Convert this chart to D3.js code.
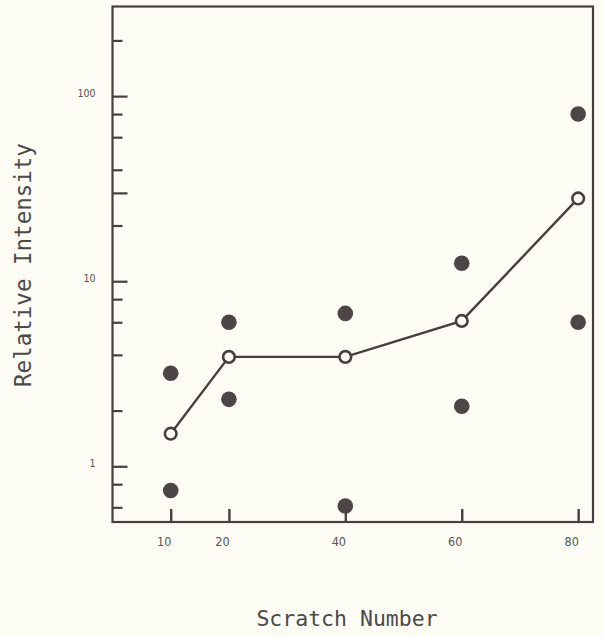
<!DOCTYPE html>
<html>
<head>
<meta charset="utf-8">
<script src="https://cdn.jsdelivr.net/npm/d3@7/dist/d3.min.js"></script>
<style>
  html, body { margin: 0; padding: 0; background: #fcfcf4; }
  svg { display: block; }
</style>
</head>
<body>
<script>
// ---- data ----
const scratchNumbers = [10, 20, 40, 60, 80];
const highValues = [3.18, 6.0, 6.7, 12.5, 80];
const lowValues = [0.74, 2.3, 0.61, 2.11, 6.0];
const meanValues = [1.5, 3.9, 3.9, 6.1, 28];
const xTickValues = [10, 20, 40, 60, 80];
const yLabelValues = [1, 10, 100];
const yMajorTicks = [1, 10, 30, 100];
const yMinorTicks = [0.6, 0.8, 2, 4, 6, 8, 20, 40, 60, 80, 200];
const xTitle = "Scratch Number";
const yTitle = "Relative Intensity";

(function () {
const W = 604, H = 637;
const ink = "#463f41";
const svg = d3.select("body").append("svg").attr("width", W).attr("height", H);
svg.append("rect").attr("width", W).attr("height", H).attr("fill", "#fcfcf4");

const mLeft = 112.5, mRight = 593, mTop = 6.5, mBottom = 522;
const x = d3.scaleLinear().domain([0, 82.55]).range([mLeft, mRight]);
const y = d3.scaleLog().domain([0.5, 305]).range([mBottom, mTop]);

// frame
svg.append("rect")
  .attr("x", mLeft).attr("y", mTop)
  .attr("width", mRight - mLeft).attr("height", mBottom - mTop)
  .attr("fill", "none").attr("stroke", ink).attr("stroke-width", 2.2);

// y ticks (inward)
const yAxisMinor = d3.axisRight(y).tickValues(yMinorTicks).tickSize(10).tickFormat("");
const yAxisMajor = d3.axisRight(y).tickValues(yMajorTicks).tickSize(15).tickFormat("");
[yAxisMinor, yAxisMajor].forEach(ax => {
  const g = svg.append("g").attr("transform", `translate(${mLeft},0)`).call(ax);
  g.select(".domain").remove();
  g.selectAll("line").attr("stroke", ink).attr("stroke-width", 2.2);
});

// y labels
const yAxisLabels = d3.axisLeft(y).tickValues(yLabelValues).tickSize(0).tickPadding(0)
  .tickFormat(d3.format("d"));
const gyl = svg.append("g").attr("transform", `translate(${mLeft - 17},-3)`).call(yAxisLabels);
gyl.select(".domain").remove();
gyl.selectAll("text").attr("fill", "#555").attr("font-family", "'DejaVu Sans Condensed', 'Liberation Sans Narrow', sans-serif")
  .attr("font-size", 10.5);

// x ticks (inward)
const xAxisTicks = d3.axisTop(x).tickValues(xTickValues).tickSize(13).tickFormat("");
const gxt = svg.append("g").attr("transform", `translate(0,${mBottom})`).call(xAxisTicks);
gxt.select(".domain").remove();
gxt.selectAll("line").attr("stroke", ink).attr("stroke-width", 2.4);

// x labels
const xAxisLabels = d3.axisBottom(x).tickValues(xTickValues).tickSize(0).tickPadding(15)
  .tickFormat(d3.format("d"));
const gxl = svg.append("g").attr("transform", `translate(-7,${mBottom})`).call(xAxisLabels);
gxl.select(".domain").remove();
gxl.selectAll("text").attr("fill", "#555").attr("font-family", "'DejaVu Sans Condensed', 'Liberation Sans Narrow', sans-serif")
  .attr("font-size", 12.5);

// mean line
const meanData = scratchNumbers.map((s, i) => ({ s, v: meanValues[i] }));
svg.append("path")
  .datum(meanData)
  .attr("d", d3.line().x(d => x(d.s)).y(d => y(d.v)))
  .attr("fill", "none").attr("stroke", ink).attr("stroke-width", 2.4);

// filled dots
const dotData = scratchNumbers.flatMap((s, i) => [{ s, v: highValues[i] }, { s, v: lowValues[i] }]);
svg.append("g").selectAll("circle").data(dotData).join("circle")
  .attr("cx", d => x(d.s)).attr("cy", d => y(d.v)).attr("r", 7.8)
  .attr("fill", "#4d4548");

// open circles
svg.append("g").selectAll("circle").data(meanData).join("circle")
  .attr("cx", d => x(d.s)).attr("cy", d => y(d.v)).attr("r", 5.8)
  .attr("fill", "#fcfcf4").attr("stroke", ink).attr("stroke-width", 2.6);

// titles
svg.append("text")
  .attr("x", 347).attr("y", 626)
  .attr("text-anchor", "middle")
  .attr("font-family", "'DejaVu Sans Mono', 'Liberation Mono', monospace")
  .attr("font-size", 21.5).attr("fill", "#4a4a4a")
  .text(xTitle);
svg.append("text")
  .attr("transform", "translate(31,265) rotate(-90)")
  .attr("text-anchor", "middle")
  .attr("font-family", "'DejaVu Sans Mono', 'Liberation Mono', monospace")
  .attr("font-size", 22.5).attr("fill", "#4a4a4a")
  .text(yTitle);
})();
</script>
</body>
</html>
